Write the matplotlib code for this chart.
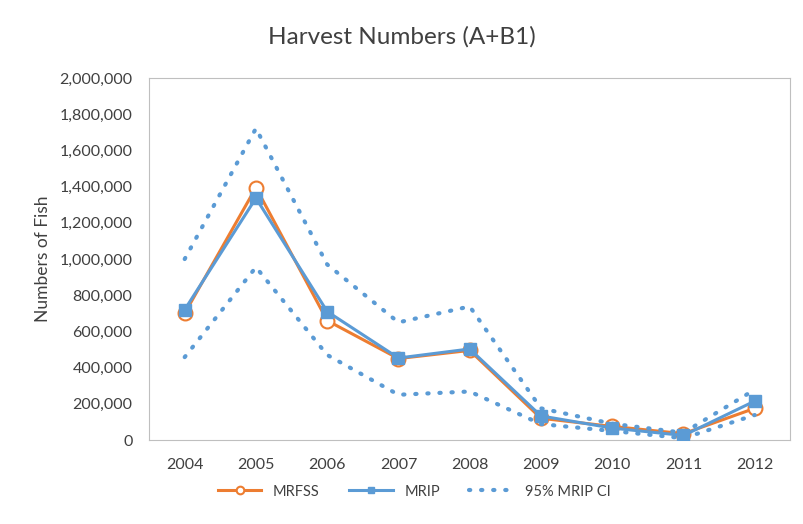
import matplotlib.pyplot as plt
from matplotlib.ticker import FuncFormatter

# data
years = ['2004', '2005', '2006', '2007', '2008', '2009', '2010', '2011', '2012']
mrfss = [700000, 1395000, 660000, 450000, 495000, 120000, 75000, 35000, 175000]
mrip = [720000, 1337000, 710000, 453000, 503000, 133000, 66000, 25000, 215000]
ci_upper = [1000000, 1722000, 970000, 650000, 738000, 175000, 90000, 40000, 278000]
ci_lower = [458000, 955000, 470000, 250000, 268000, 88000, 50000, 10000, 138000]

orange = '#ED7D31'
blue = '#5B9BD5'
text_col = '#404040'

plt.rcParams['font.family'] = ['Lato', 'DejaVu Sans']

fig = plt.figure(figsize=(8.04, 5.24), dpi=100)
ax = fig.add_axes([0.1854, 0.1603, 0.7976, 0.6907])

x = list(range(len(years)))

dots = dict(color=blue, linewidth=3, linestyle=(0, (0.3, 2.6)),
            dash_capstyle='round', zorder=4)
ax.plot(x, ci_upper, label='95% MRIP CI', **dots)
ax.plot(x, ci_lower, **dots)

ax.plot(x, mrfss, color=orange, linewidth=2.2, marker='o', markersize=10,
        markerfacecolor='white', markeredgecolor=orange, markeredgewidth=1.5,
        label='MRFSS', zorder=2)
ax.plot(x, mrip, color=blue, linewidth=2.2, marker='s', markersize=9,
        markerfacecolor=blue, markeredgecolor=blue, label='MRIP', zorder=3)

ax.set_xlim(-0.5, len(years) - 0.5)
ax.set_ylim(0, 2000000)
ax.set_yticks(range(0, 2000001, 200000))
ax.yaxis.set_major_formatter(FuncFormatter(lambda v, p: f'{int(v):,}'))
ax.set_xticks(x)
ax.set_xticklabels(years)

for s in ax.spines.values():
    s.set_color('#BFBFBF')
    s.set_linewidth(0.8)
ax.tick_params(length=0, labelsize=11.5, colors=text_col)
ax.tick_params(axis='y', pad=12)
ax.tick_params(axis='x', pad=13)

ax.set_ylabel('Numbers of Fish', fontsize=12.5, color=text_col, labelpad=6)
fig.suptitle('Harvest Numbers (A+B1)', fontsize=17.5, color=text_col,
             y=0.95)

handles, labels = ax.get_legend_handles_labels()
order = [1, 2, 0]
fig.legend([handles[i] for i in order], [labels[i] for i in order],
           loc='center', bbox_to_anchor=(0.515, 0.062), ncol=3, frameon=False,
           fontsize=10.5, labelcolor=text_col, handlelength=3.0,
           columnspacing=2.0, markerscale=0.55)

fig.savefig('out.png', dpi=100)
